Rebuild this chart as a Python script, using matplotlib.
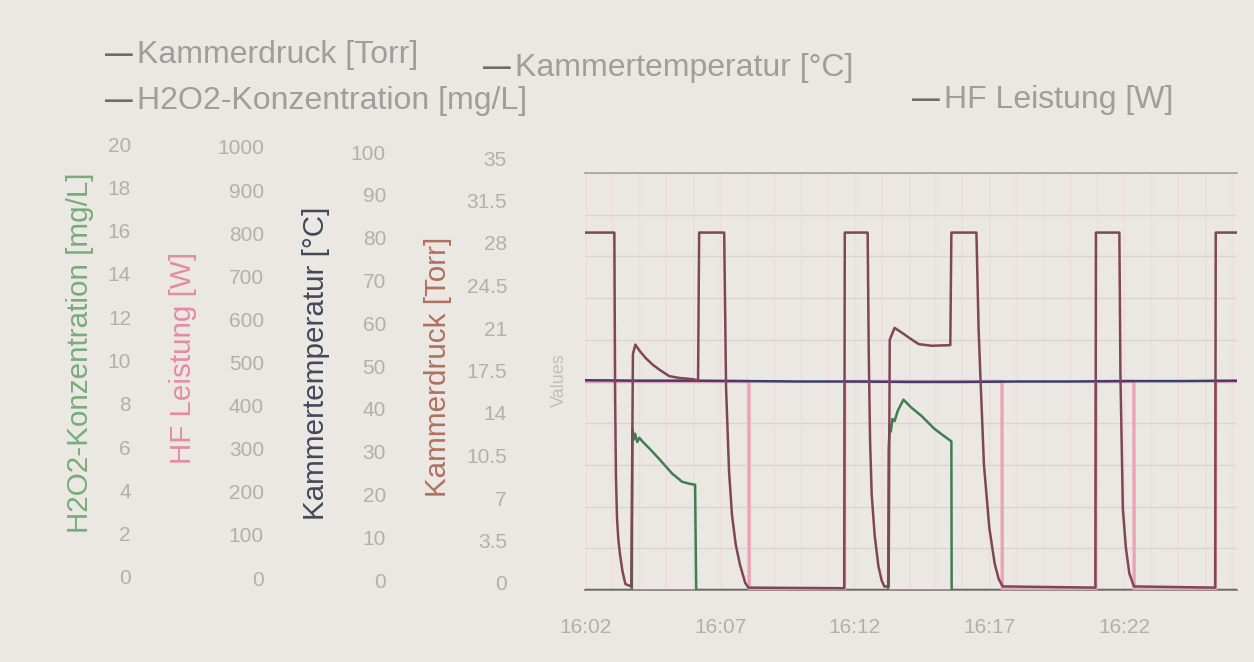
import datetime as dt

import matplotlib
matplotlib.use('Agg')
import matplotlib.pyplot as plt
import matplotlib.dates as mdates
from matplotlib.ticker import MultipleLocator, FuncFormatter

plt.rcParams['font.family'] = ['Liberation Sans', 'DejaVu Sans']

START = dt.datetime(2024, 1, 1, 16, 2)

# --- messdaten (minuten nach 16:02) ---
druck_min = [-0.02, 1.07, 1.10, 1.13, 1.17, 1.22, 1.28, 1.37, 1.48, 1.70, 1.76, 1.85,
             2.00, 2.22, 2.50, 2.74, 3.11, 3.48, 3.96, 4.18, 4.22, 5.15, 5.22, 5.33,
             5.44, 5.58, 5.74, 5.93, 6.05, 9.61, 9.63, 10.48, 10.52, 10.57, 10.63,
             10.74, 10.88, 11.00, 11.10, 11.26, 11.30, 11.48, 11.75, 12.00, 12.37,
             12.85, 13.55, 13.59, 14.52, 14.60, 14.67, 14.80, 15.00, 15.20, 15.35,
             15.50, 18.94, 18.96, 19.83, 19.87, 19.96, 20.07, 20.20, 20.37, 23.39,
             23.41, 24.20]
druck_torr = [30.0, 30.0, 16.0, 9.5, 6.0, 4.2, 3.0, 1.6, 0.5, 0.3, 19.8, 20.6,
              20.1, 19.5, 18.9, 18.5, 17.95, 17.8, 17.7, 17.6, 30.0, 30.0, 17.0, 10.0,
              6.3, 3.8, 2.1, 0.6, 0.2, 0.15, 30.0, 30.0, 20.0, 12.5, 8.0,
              4.6, 2.0, 0.8, 0.3, 0.3, 21.0, 22.0, 21.6, 21.2, 20.64,
              20.5, 20.55, 30.0, 30.0, 22.0, 17.8, 10.5, 5.2, 2.2, 0.9,
              0.3, 0.2, 30.0, 30.0, 18.0, 6.8, 3.6, 1.4, 0.3, 0.2,
              30.0, 30.0]

temp_min = [-0.02, 2.0, 4.0, 6.0, 8.0, 10.0, 12.0, 14.0, 16.0, 18.0, 20.0, 22.0, 24.2]
temp_c = [50.3, 50.2, 50.2, 50.1, 50.0, 50.0, 49.9, 49.9, 50.0, 50.0, 50.1, 50.1, 50.2]

hf_min = [-0.02, 6.07, 6.08, 9.62, 9.63, 15.47, 15.48, 18.95, 18.96, 20.37, 20.38,
          23.40, 23.41, 24.20]
hf_w = [500, 500, 0, 0, 500, 500, 0, 0, 500, 500, 0, 0, 500, 500]

h2o2_min = [-0.02, 1.72, 1.74, 1.78, 1.84, 1.92, 2.00, 2.11, 2.40, 2.74, 3.22, 3.59,
            3.85, 4.07, 4.11, 11.24, 11.26, 11.30, 11.34, 11.40, 11.48, 11.60, 11.81,
            12.10, 12.48, 12.96, 13.30, 13.59, 13.60, 24.20]
h2o2_mgl = [0.0, 0.0, 7.7, 7.2, 7.5, 7.1, 7.3, 7.13, 6.75, 6.28, 5.58, 5.19,
            5.1, 5.05, 0.0, 0.0, 6.8, 7.9, 7.6, 8.2, 8.1, 8.6, 9.13,
            8.75, 8.35, 7.73, 7.4, 7.13, 0.0, 0.0]

legend_labels = ['Kammerdruck [Torr]', 'Kammertemperatur [°C]', 'HF Leistung [W]',
                 'H2O2-Konzentration [mg/L]']


def to_time(minutes):
    return [START + dt.timedelta(minutes=m) for m in minutes]


BG = '#ebe8e3'
TICK = '#b3afab'
C_DRUCK = '#7f4656'
C_TEMP = '#3d3f6c'
C_HF = '#eca2b6'
C_H2O2 = '#3f7e4d'

W_PX, H_PX = 1254, 662
L_PX, R_PX, T_PX, B_PX = 585, 1237, 173, 590

fig = plt.figure(figsize=(W_PX / 100, H_PX / 100), dpi=100, facecolor=BG)
ax = fig.add_axes([L_PX / W_PX, 1 - B_PX / H_PX, (R_PX - L_PX) / W_PX, (B_PX - T_PX) / H_PX])
ax.set_facecolor(BG)


def fx(x):
    return x / W_PX


def fy(y):
    return 1 - y / H_PX


# grundraster
ax.set_ylim(0, 100)
ax.yaxis.set_major_locator(MultipleLocator(10))
ax.xaxis.set_major_locator(mdates.MinuteLocator(byminute=range(2, 60, 5)))
ax.xaxis.set_minor_locator(mdates.MinuteLocator())
ax.xaxis.set_major_formatter(mdates.DateFormatter('%H:%M'))
ax.tick_params(axis='x', which='both', length=0, pad=20, labelsize=15, labelcolor=TICK)
ax.grid(axis='y', color='#dcd3d3', lw=1.0)
ax.grid(axis='x', which='both', color='#eedcdf', lw=1.0)
for side in ['left', 'right']:
    ax.spines[side].set_visible(False)
ax.spines['top'].set_color('#a5a19f')
ax.spines['top'].set_linewidth(1.2)
ax.spines['bottom'].set_color('#9a8890')
ax.spines['bottom'].set_linewidth(1.4)
ax.set_ylabel('Values', color='#c2bebb', fontsize=13)
ax.yaxis.set_label_coords(fx(568), fy(380), transform=fig.transFigure)


def line_axis(top):
    a = ax.twinx()
    a.set_ylim(0, top)
    a.tick_params(axis='y', left=False, right=False, labelleft=False, labelright=False)
    for s in a.spines.values():
        s.set_visible(False)
    a.patch.set_visible(False)
    return a


def scale_column(top, step, right_px, top_px, bottom_px, title, title_px, title_cy, color):
    # schmale achse links, nur beschriftung
    s = fig.add_axes([fx(right_px), fy(bottom_px), 0.001, (bottom_px - top_px) / H_PX])
    s.set_ylim(0, top)
    s.yaxis.set_major_locator(MultipleLocator(step))
    s.yaxis.set_major_formatter(FuncFormatter(lambda v, p: f'{v:g}'))
    s.set_xticks([])
    for sp in s.spines.values():
        sp.set_visible(False)
    s.patch.set_visible(False)
    s.tick_params(axis='y', length=0, pad=0, labelsize=15, labelcolor=TICK)
    s.set_ylabel(title, color=color, fontsize=21.3)
    s.yaxis.set_label_coords(fx(title_px + 16), fy(title_cy), transform=fig.transFigure)
    return s


# die vier skalen links
scale_column(20, 2, 131, 144, 577, 'H2O2-Konzentration [mg/L]', 78, 353, '#77ad79')
scale_column(1000, 100, 264, 147, 578, 'HF Leistung [W]', 181, 358, '#e38ca6')
scale_column(100, 10, 386, 152, 580, 'Kammertemperatur [°C]', 314, 363, '#45475a')
scale_column(35, 3.5, 507, 158, 583, 'Kammerdruck [Torr]', 436, 367, '#b2705f')

# zeichenreihenfolge: druck oben
ax_h2o2 = line_axis(20)
ax_hf = line_axis(1000)
ax_temp = line_axis(100)
ax_druck = line_axis(35)

ax_h2o2.plot(to_time(h2o2_min), h2o2_mgl, color=C_H2O2, lw=1.8)
ax_hf.plot(to_time(hf_min), hf_w, color=C_HF, lw=2.4)
ax_temp.plot(to_time(temp_min), temp_c, color=C_TEMP, lw=1.8)
ax_druck.plot(to_time(druck_min), druck_torr, color=C_DRUCK, lw=1.8)

t_all = to_time(druck_min)
ax.set_xlim(t_all[0], t_all[-1])
ax.tick_params(axis='y', left=False, right=False, labelleft=False, labelright=False)

# legende
legend_pos = [(105, 55), (483, 68), (912, 100), (105, 101)]
for label, (lx, ly) in zip(legend_labels, legend_pos):
    fig.text(fx(lx), fy(ly), '—', color='#6e6c6b', fontsize=20,
             va='center', ha='left', fontweight='bold')
    fig.text(fx(lx + 32), fy(ly), label, color='#a09d9a', fontsize=23,
             va='center', ha='left')

fig.savefig('out.png', dpi=100, facecolor=BG)
